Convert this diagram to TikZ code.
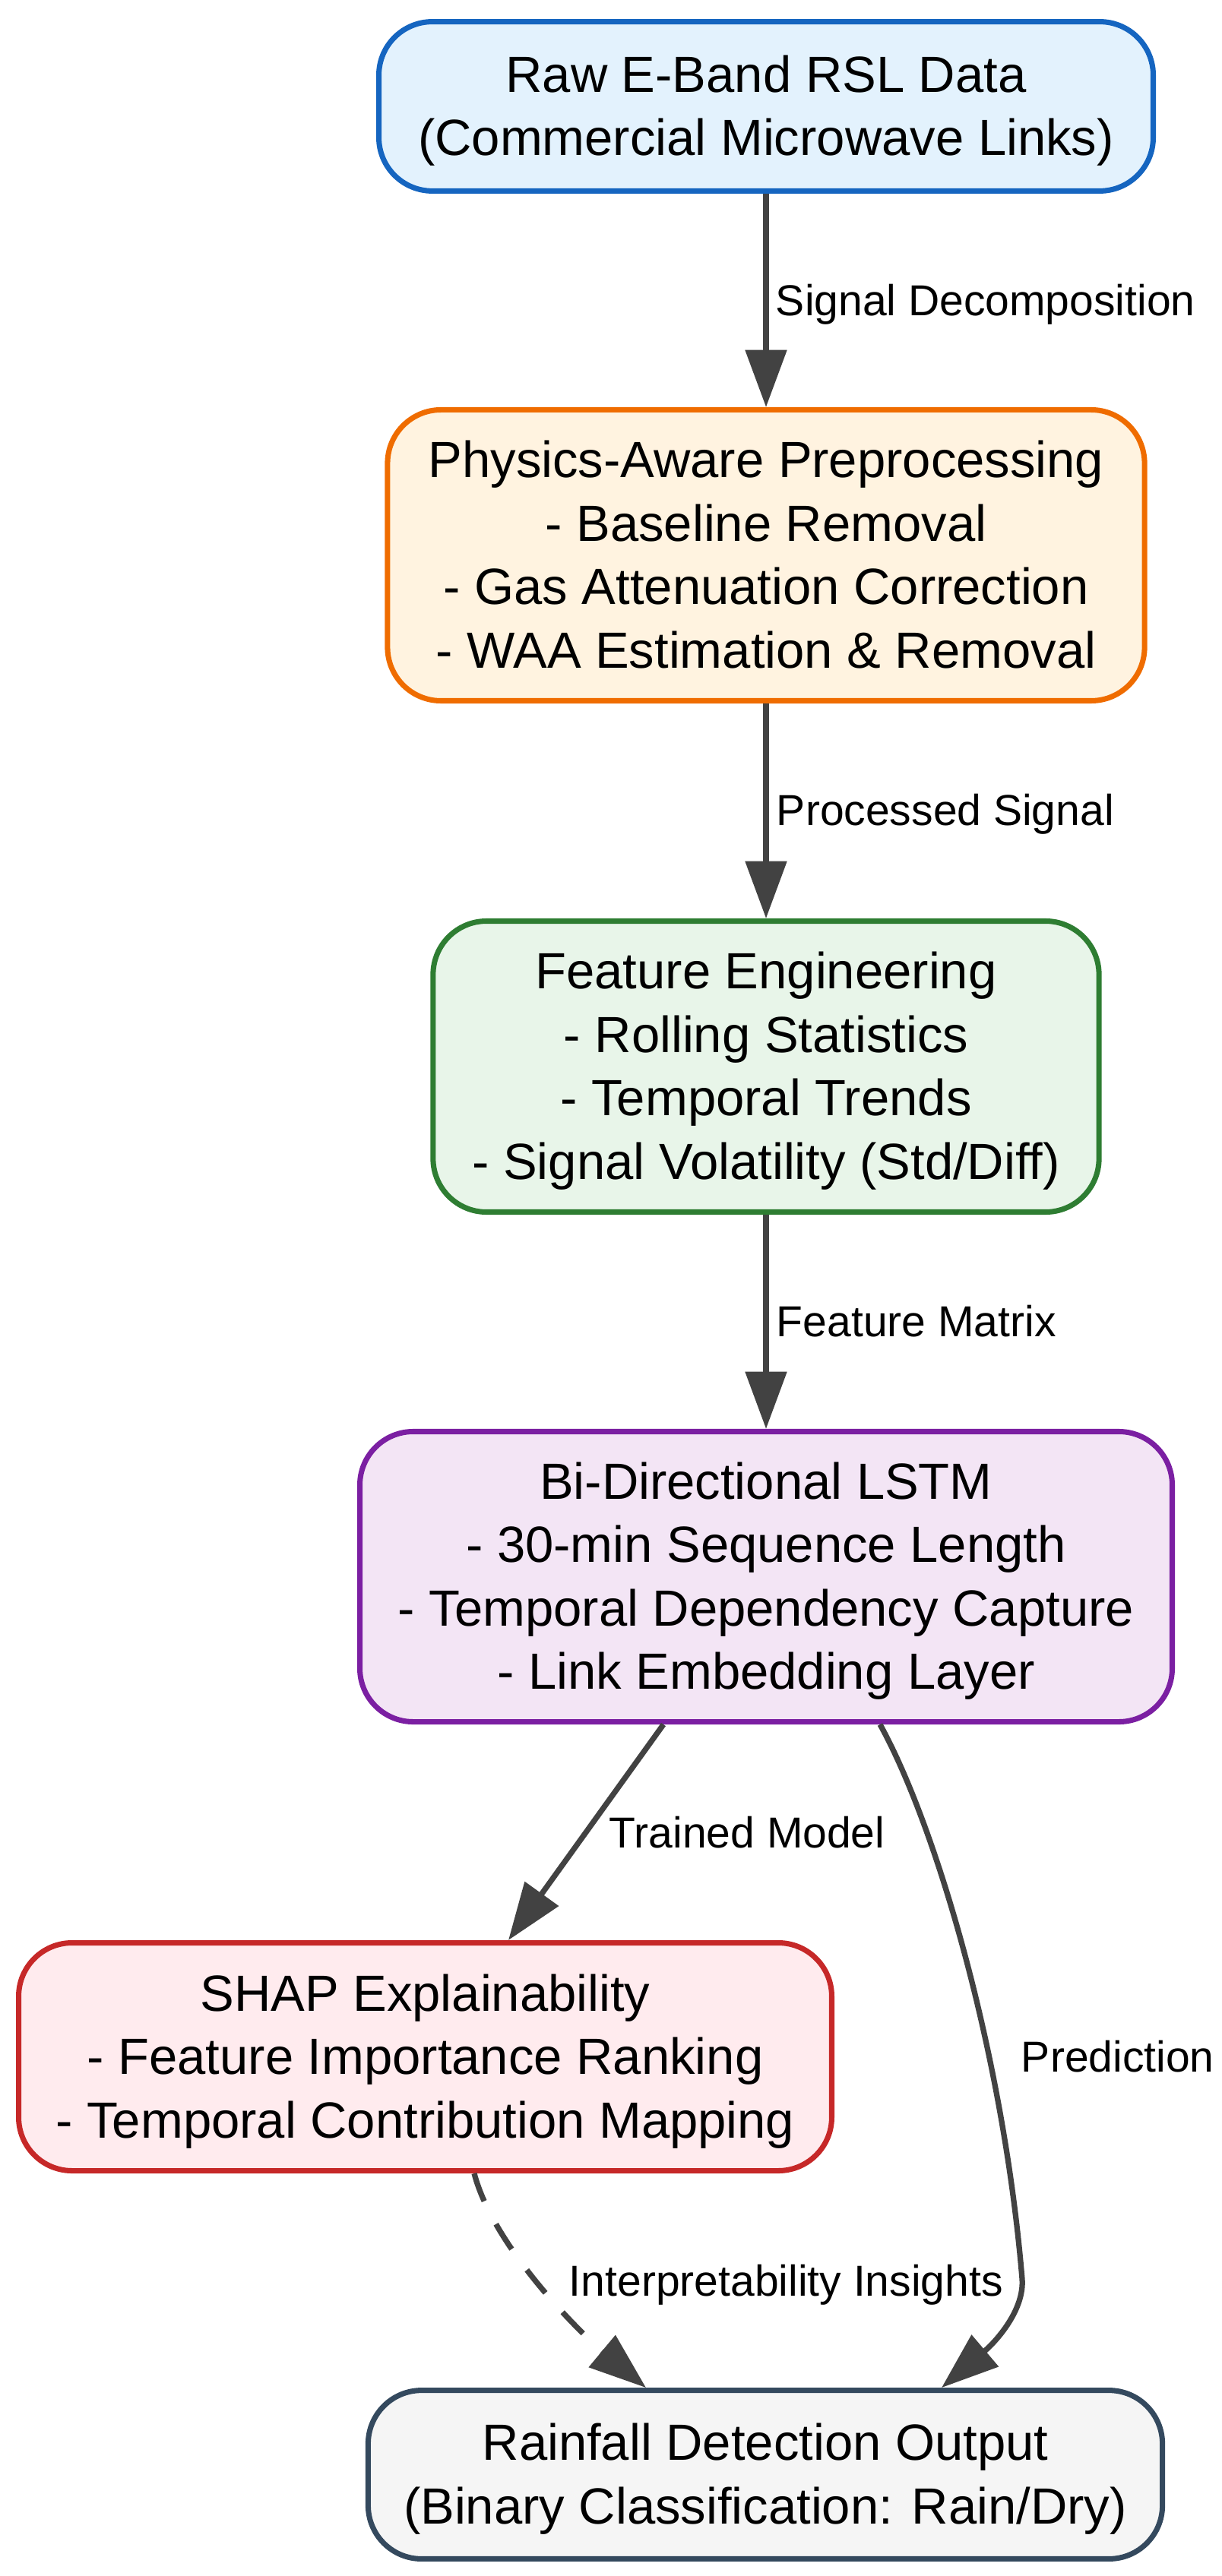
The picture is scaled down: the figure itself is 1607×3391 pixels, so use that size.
\documentclass[tikz,border=0pt]{standalone}
\usepackage{fontspec}
\setmainfont{Liberation Sans}
\usetikzlibrary{arrows.meta,calc}
\definecolor{f1}{HTML}{E3F2FD}\definecolor{b1}{HTML}{1565C0}
\definecolor{f2}{HTML}{FFF3E0}\definecolor{b2}{HTML}{EF6C00}
\definecolor{f3}{HTML}{E8F5E9}\definecolor{b3}{HTML}{2E7D32}
\definecolor{f4}{HTML}{F3E5F5}\definecolor{b4}{HTML}{7B1FA2}
\definecolor{f5}{HTML}{FFEBEE}\definecolor{b5}{HTML}{C62828}
\definecolor{f6}{HTML}{F5F5F5}\definecolor{b6}{HTML}{34495E}
\definecolor{edgec}{HTML}{424242}
\newcommand{\nstrut}{\rule[-3.1pt]{0pt}{15.7pt}}
\begin{document}
\begin{tikzpicture}[x=0.206pt,y=-0.206pt,
  box/.style={draw, rounded corners=14.5pt, line width=1.45pt, align=center,
    inner sep=0pt, font=\fontsize{13.8pt}{17.2pt}\selectfont, text=black},
  arr/.style={draw=edgec, line width=1.5pt, -{Triangle[length=15.5pt,width=11pt]}},
  lbl/.style={font=\fontsize{11.75pt}{14pt}\selectfont, anchor=base west, inner sep=0pt, text=black}]
\useasboundingbox (0,0) rectangle (1607,3391);

\node[box, fill=f1, draw=b1, minimum width=209.9pt, minimum height=45.9pt] (n1) at (1008,140)
  {\nstrut Raw E-Band RSL Data\\\nstrut(Commercial Microwave Links)};
\node[box, fill=f2, draw=b2, minimum width=205.2pt, minimum height=78.9pt] (n2) at (1008,731)
  {\nstrut Physics-Aware Preprocessing\\\nstrut- Baseline Removal\\\nstrut- Gas Attenuation Correction\\\nstrut- WAA Estimation \& Removal};
\node[box, fill=f3, draw=b3, minimum width=180.5pt, minimum height=78.9pt] (n3) at (1008,1404)
  {\nstrut Feature Engineering\\\nstrut- Rolling Statistics\\\nstrut- Temporal Trends\\\nstrut- Signal Volatility (Std/Diff)};
\node[box, fill=f4, draw=b4, minimum width=220.2pt, minimum height=78.7pt] (n4) at (1008,2075.5)
  {\nstrut Bi-Directional LSTM\\\nstrut- 30-min Sequence Length\\\nstrut- Temporal Dependency Capture\\\nstrut- Link Embedding Layer};
\node[box, fill=f5, draw=b5, minimum width=220.4pt, minimum height=61.8pt] (n5) at (559.5,2707.5)
  {\nstrut SHAP Explainability\\\nstrut- Feature Importance Ranking\\\nstrut- Temporal Contribution Mapping};
\node[box, fill=f6, draw=b6, minimum width=215.3pt, minimum height=45.7pt] (n6) at (1007,3257.5)
  {\nstrut Rainfall Detection Output\\\nstrut(Binary Classification: Rain/Dry)};

\draw[arr] (n1.south) -- (n2.north);
\draw[arr] (n2.south) -- (n3.north);
\draw[arr] (n3.south) -- (n4.north);
\draw[arr] ($(n4.south)+(-135,0)$) -- ($(n5.north)+(109.5,0)$);
\coordinate (pbend) at (1345,3000);
\draw[arr] ($(n4.south)+(150,0)$) .. controls (1230,2400) and (1320,2700) .. (pbend)
  .. controls (1348,3040) and (1312,3081) .. ($(n6.north)+(232,0)$);
\draw[arr, dash pattern=on 8pt off 7pt] ($(n5.south)+(64.5,0)$) .. controls (650,2960) and (767,3074) .. ($(n6.north)+(-157,0)$);

\node[lbl] (l1) at (1020,416) {Signal Decomposition};
\node[lbl] (l2) at (1021,1087) {Processed Signal};
\node[lbl] (l3) at (1021,1759) {Feature Matrix};
\node[lbl] (l4) at (801,2432) {Trained Model};
\node[lbl] (l5) at (1343,2727) {Prediction};
\node[lbl] (l6) at (748,3022) {Interpretability Insights};
\end{tikzpicture}
\end{document}
